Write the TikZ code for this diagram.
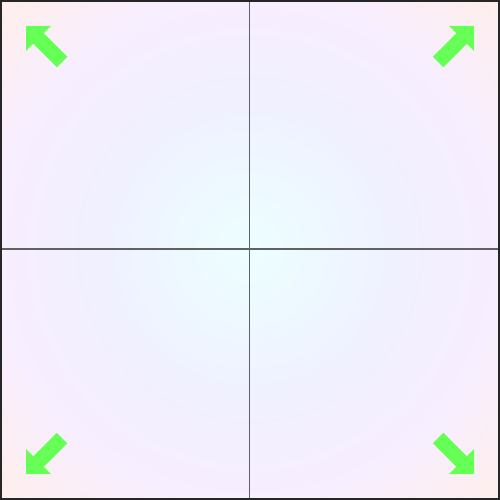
\documentclass[tikz,border=0pt]{standalone}
\usetikzlibrary{calc}
\definecolor{bgc}{HTML}{ECFFFF}
\definecolor{bgm}{HTML}{F0F0FF}
\definecolor{bgp}{HTML}{F7EEFF}
\definecolor{bgo}{HTML}{FFEEEA}
\definecolor{arrowgreen}{HTML}{66FF55}
\tikzset{
  gridline/.style={draw=black!62, line width=1.5},
  frameline/.style={draw=black!85, line width=2.2},
  greenarrow/.style={fill=arrowgreen, draw=none},
}
\begin{document}
\begin{tikzpicture}[x=1pt,y=-1pt]
\useasboundingbox (0,0) rectangle (500,500);
\begin{scope}
  \clip (0,0) rectangle (500,500);
  \foreach \r in {356,352,...,0}{
    \ifdim\r pt>250pt
      \pgfmathtruncatemacro{\p}{100*(\r-250)/106}
      \fill[bgo!\p!bgp] (250,250) circle (\r+2);
    \else\ifdim\r pt>150pt
      \pgfmathtruncatemacro{\p}{100*(\r-150)/100}
      \fill[bgp!\p!bgm] (250,250) circle (\r+2);
    \else
      \pgfmathtruncatemacro{\p}{100*\r/150}
      \fill[bgm!\p!bgc] (250,250) circle (\r+2);
    \fi\fi
  }
\end{scope}
\coordinate (top) at (249.5,0);
\coordinate (bottom) at (249.5,500);
\coordinate (left) at (0,249);
\coordinate (right) at (500,249);
\draw[gridline] (top) -- (bottom);
\draw[gridline] (left) -- (right);
\draw[frameline] (1.1,1.1) rectangle (498.9,498.9);
% arrows
\foreach \sx/\ox/\sy/\oy in {1/0/1/0, -1/500/1/0, 1/0/-1/500, -1/500/-1/500}{
  \begin{scope}[shift={(\ox,\oy)}, xscale=\sx, yscale=\sy]
    \fill[greenarrow] (26,26) -- (51,26) -- (43.75,33.25) -- (67.25,56.75) -- (56.75,67.25) -- (33.25,43.75) -- (26,51) -- cycle;
  \end{scope}
}
\end{tikzpicture}
\end{document}
